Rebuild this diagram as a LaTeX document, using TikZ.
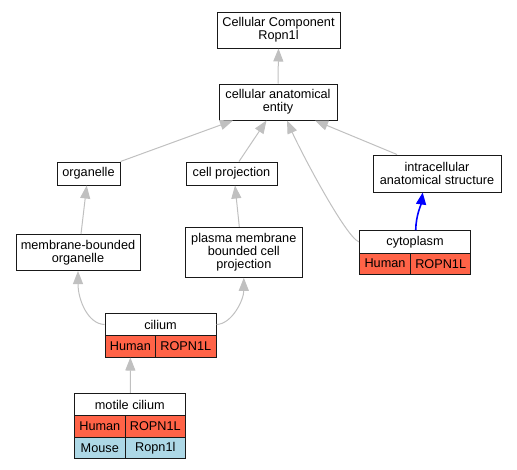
\documentclass[tikz,border=0pt]{standalone}
\usepackage{fontspec}
\setmainfont{Liberation Sans}
\usetikzlibrary{arrows.meta}
\definecolor{hum}{HTML}{FF6347}
\definecolor{mou}{HTML}{ADD8E6}
\definecolor{edg}{HTML}{C0C0C0}
\begin{document}
\begin{tikzpicture}[x=1pt,y=-1pt,
  box/.style={draw=black!90, line width=1pt, fill=white, inner sep=0pt, align=center,
    font=\fontsize{12.7}{13.3}\selectfont},
  hbox/.style={box, fill=hum},
  mbox/.style={box, fill=mou},
  gedge/.style={draw=edg, line width=1pt, -{Triangle[length=13pt,width=10pt]}},
  bedge/.style={draw=blue, line width=1.6pt, -{Triangle[length=12pt,width=10pt]}}]
\useasboundingbox (0,0) rectangle (517,469);

\node[box, minimum width=123pt, minimum height=36pt] (top) at (278.5,30) {Cellular Component\\Ropn1l};
\node[box, minimum width=118pt, minimum height=36pt] (ent) at (278,102) {cellular anatomical\\entity};
\node[box, minimum width=63pt, minimum height=23pt] (org) at (88.5,173.5) {organelle};
\node[box, minimum width=91pt, minimum height=23pt] (cp) at (231.5,173.5) {cell projection};
\node[box, minimum width=128pt, minimum height=37pt] (ias) at (437,173.5) {intracellular\\anatomical structure};
\node[box, minimum width=124pt, minimum height=36pt] (mbo) at (78,252.5) {membrane-bounded\\organelle};
\node[box, minimum width=117.5pt, minimum height=50pt] (pmb) at (243.8,252.3) {plasma membrane\\bounded cell\\projection};

% cytoplasm
\node[box, minimum width=111.4pt, minimum height=22.3pt] (cyto) at (415,241.85) {cytoplasm};
\node[hbox, minimum width=51.4pt, minimum height=21.3pt] (cytoh) at (385,263.65) {Human};
\node[hbox, minimum width=60pt, minimum height=21.3pt] (cytog) at (440.7,263.65) {ROPN1L};

% cilium
\node[box, minimum width=111pt, minimum height=22.4pt] (cil) at (160.5,324.5) {cilium};
\node[hbox, minimum width=50.7pt, minimum height=21.3pt] (cilh) at (130.35,346.35) {Human};
\node[hbox, minimum width=60.3pt, minimum height=21.3pt] (cilg) at (185.85,346.35) {ROPN1L};

% motile cilium
\node[box, minimum width=111pt, minimum height=22.4pt] (mot) at (129.8,404.5) {motile cilium};
\node[hbox, minimum width=51pt, minimum height=21.3pt] (moth) at (99.8,426.35) {Human};
\node[hbox, minimum width=60pt, minimum height=21.3pt] (motg) at (155.3,426.35) {ROPN1L};
\node[mbox, minimum width=51pt, minimum height=21.7pt] (motm) at (99.8,447.85) {Mouse};
\node[mbox, minimum width=60pt, minimum height=21.7pt] (motr) at (155.3,447.85) {Ropn1l};

% edges
\draw[gedge] (ent.north) -- (top.south);
\draw[gedge] (org.north east) -- ([xshift=-45pt]ent.south);
\draw[gedge] ([xshift=7.5pt]cp.north) -- ([xshift=-11.5pt]ent.south);
\draw[gedge] ([xshift=-40pt]ias.north) -- ([xshift=37pt]ent.south);
\draw[gedge] (cyto.west) .. controls (345,236) and (300,150) .. ([xshift=9pt]ent.south);
\draw[bedge] ([xshift=0.7pt]cyto.north) .. controls (416,215) and (421,205) .. ([xshift=-14.3pt]ias.south);
\draw[gedge] ([xshift=3pt]mbo.north) -- ([xshift=-1.8pt]org.south);
\draw[gedge] ([xshift=-4.5pt]pmb.north) -- ([xshift=3.5pt]cp.south);
\draw[gedge] (cil.west) .. controls (88,324) and (78,300) .. (mbo.south);
\draw[gedge] (cil.east) .. controls (232,324) and (243.8,300) .. (pmb.south);
\draw[gedge] ([xshift=0.5pt]mot.north) -- (cilh.south);
\end{tikzpicture}
\end{document}
